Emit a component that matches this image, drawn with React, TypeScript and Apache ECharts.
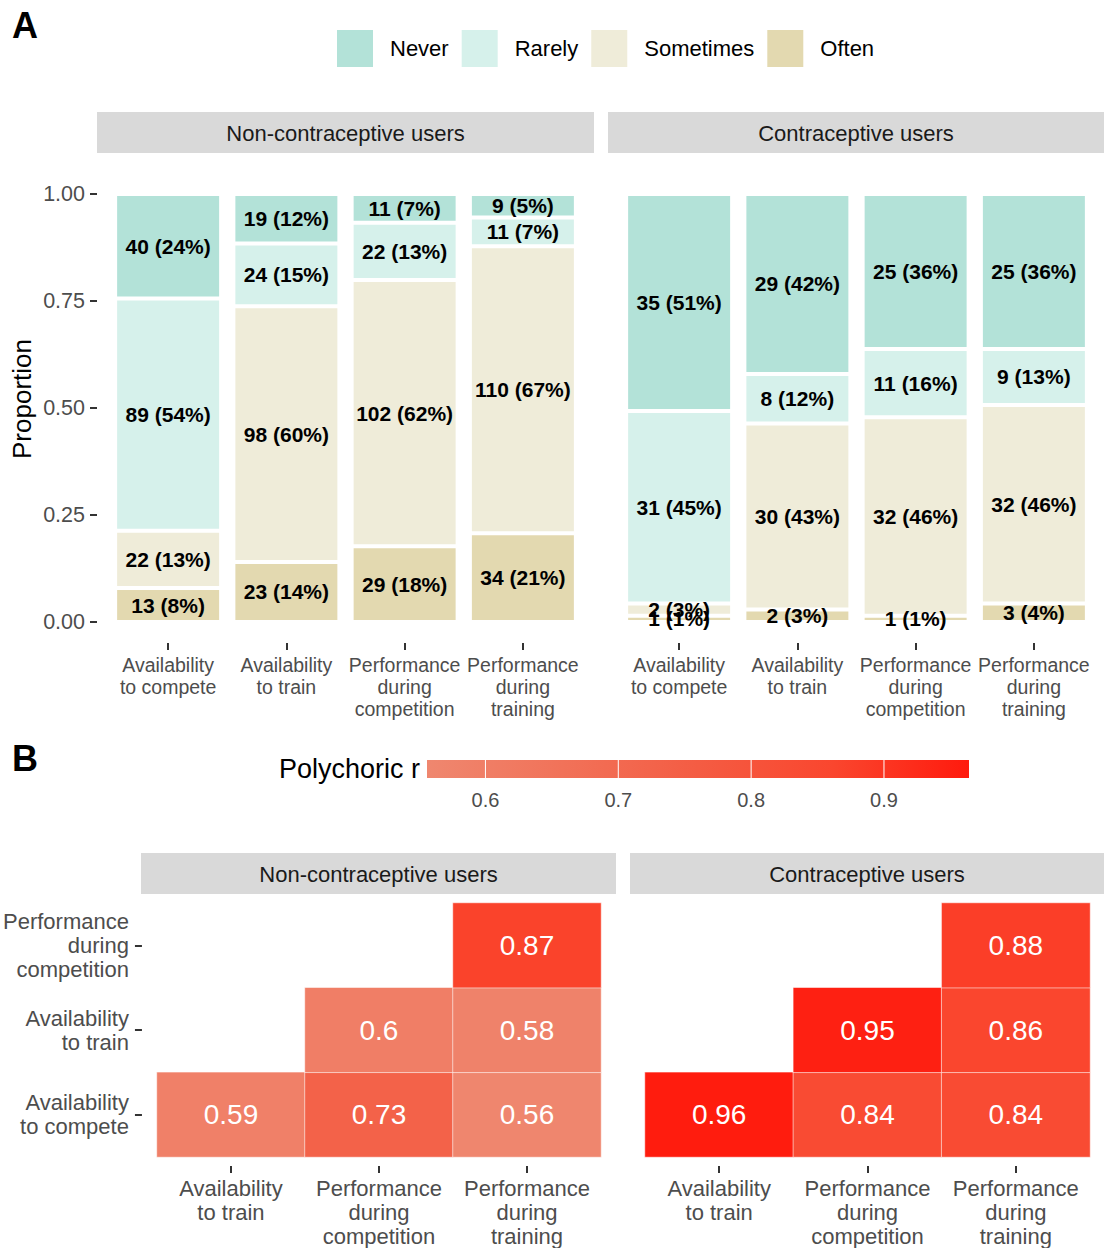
import React, { useEffect, useRef } from "react";
import * as echarts from "echarts";

const FONT = "'Liberation Sans', Arial, Helvetica, sans-serif";

// ---- Panel A data ----
const questions = [
  "Availability\nto compete",
  "Availability\nto train",
  "Performance\nduring\ncompetition",
  "Performance\nduring\ntraining",
];
const responses = ["Never", "Rarely", "Sometimes", "Often"];
const facetNames = ["Non-contraceptive users", "Contraceptive users"];

const nonNever = [40, 19, 11, 9];
const nonRarely = [89, 24, 22, 11];
const nonSometimes = [22, 98, 102, 110];
const nonOften = [13, 23, 29, 34];

const conNever = [35, 29, 25, 25];
const conRarely = [31, 8, 11, 9];
const conSometimes = [2, 30, 32, 32];
const conOften = [1, 2, 1, 3];

const yTicksA = [0, 0.25, 0.5, 0.75, 1];

// ---- Panel B data ----
const corrX = [
  "Availability\nto train",
  "Performance\nduring\ncompetition",
  "Performance\nduring\ntraining",
];
const corrY = [
  "Availability\nto compete",
  "Availability\nto train",
  "Performance\nduring\ncompetition",
];
// [xIndex, yIndex, r]
const nonCorr = [
  [0, 0, 0.59],
  [1, 0, 0.73],
  [2, 0, 0.56],
  [1, 1, 0.6],
  [2, 1, 0.58],
  [2, 2, 0.87],
];
const conCorr = [
  [0, 0, 0.96],
  [1, 0, 0.84],
  [2, 0, 0.84],
  [1, 1, 0.95],
  [2, 1, 0.86],
  [2, 2, 0.88],
];
const colorBreaks = [0.6, 0.7, 0.8, 0.9];
const colorMin = 0.556;
const colorMax = 0.964;

const responseColors: Record<string, string> = {
  Never: "#b3e2d8",
  Rarely: "#d6f1eb",
  Sometimes: "#efecd9",
  Often: "#e3d9b0",
};
const rampColors = ["#ef876f", "#f17259", "#f45c43", "#fa462e", "#ff1a0d"];

function barSeries(counts: Record<string, number[]>, gi: number, stack: string) {
  const totals = questions.map((_, i) =>
    responses.reduce((s, r) => s + counts[r][i], 0)
  );
  return ["Often", "Sometimes", "Rarely", "Never"].map((r) => ({
    type: "bar",
    name: r,
    stack,
    xAxisIndex: gi,
    yAxisIndex: gi,
    barWidth: 106,
    itemStyle: { color: responseColors[r], borderColor: "#ffffff", borderWidth: 2 },
    emphasis: { disabled: true },
    label: {
      show: true,
      position: "inside",
      fontFamily: FONT,
      fontWeight: "bold",
      fontSize: 21,
      color: "#000000",
      formatter: (p: any) =>
        `${counts[r][p.dataIndex]} (${Math.round(
          (100 * counts[r][p.dataIndex]) / totals[p.dataIndex]
        )}%)`,
    },
    data: counts[r].map((c, i) => c / totals[i]),
  }));
}

function heatSeries(data: number[][], gi: number) {
  return {
    type: "heatmap",
    xAxisIndex: gi,
    yAxisIndex: gi,
    data,
    itemStyle: { borderColor: "rgba(255,255,255,0.55)", borderWidth: 1 },
    emphasis: { disabled: true },
    label: {
      show: true,
      color: "#ffffff",
      fontSize: 28,
      fontFamily: FONT,
      formatter: (p: any) => String(p.value[2]),
    },
  };
}

const tickStyle = { show: true, length: 7, lineStyle: { color: "#333333", width: 2 } };

function buildOption() {
  const nonCounts = { Never: nonNever, Rarely: nonRarely, Sometimes: nonSometimes, Often: nonOften };
  const conCounts = { Never: conNever, Rarely: conRarely, Sometimes: conSometimes, Often: conOften };

  const xA = (gi: number) => ({
    type: "category",
    gridIndex: gi,
    data: questions,
    offset: 21,
    axisLine: { show: false, onZero: false },
    axisTick: { ...tickStyle, alignWithLabel: true },
    axisLabel: {
      interval: 0,
      color: "#4d4d4d",
      fontSize: 19.5,
      lineHeight: 22,
      margin: 11,
      fontFamily: FONT,
    },
  });
  const xB = (gi: number) => ({
    type: "category",
    gridIndex: gi,
    data: corrX,
    offset: 9,
    axisLine: { show: false, onZero: false },
    axisTick: { ...tickStyle, alignWithLabel: true },
    axisLabel: {
      interval: 0,
      color: "#4d4d4d",
      fontSize: 22,
      lineHeight: 24,
      margin: 10,
      fontFamily: FONT,
    },
    splitArea: { show: false },
  });

  const stops = rampColors.map((c, i) => ({ offset: i / (rampColors.length - 1), color: c }));

  return {
    animation: false,
    backgroundColor: "#ffffff",
    textStyle: { fontFamily: FONT },
    legend: {
      data: responses,
      left: 337,
      top: 30,
      padding: 0,
      icon: "rect",
      itemWidth: 36,
      itemHeight: 37,
      itemGap: 13,
      itemStyle: { borderWidth: 0 },
      selectedMode: false,
      textStyle: { fontSize: 22, color: "#000000", fontFamily: FONT, padding: [0, 0, 0, 12] },
    },
    grid: [
      { left: 109, top: 194, width: 473, height: 428 },
      { left: 620, top: 194, width: 473, height: 428 },
      { left: 156, top: 903, width: 445, height: 257 },
      { left: 645, top: 903, width: 445, height: 257 },
      { left: 427, top: 760, width: 542, height: 18 },
    ],
    xAxis: [
      xA(0),
      xA(1),
      xB(2),
      xB(3),
      {
        type: "value",
        gridIndex: 4,
        min: colorMin,
        max: colorMax,
        axisLine: { show: false, onZero: false },
        axisTick: { show: false },
        splitLine: { show: false },
        axisLabel: {
          customValues: colorBreaks,
          formatter: (v: number) => String(Math.round(v * 10) / 10),
          color: "#4d4d4d",
          fontSize: 20,
          margin: 12,
          fontFamily: FONT,
        },
      },
    ],
    yAxis: [
      {
        type: "value",
        gridIndex: 0,
        min: 0,
        max: 1,
        interval: 0.25,
        offset: 12,
        axisLine: { show: false, onZero: false },
        axisTick: tickStyle,
        splitLine: { show: false },
        axisLabel: {
          customValues: yTicksA,
          formatter: (v: number) => v.toFixed(2),
          color: "#4d4d4d",
          fontSize: 21.5,
          margin: 12,
          fontFamily: FONT,
        },
      },
      { type: "value", gridIndex: 1, min: 0, max: 1, show: false, splitLine: { show: false } },
      {
        type: "category",
        gridIndex: 2,
        data: corrY,
        offset: 15,
        axisLine: { show: false, onZero: false },
        axisTick: { ...tickStyle, alignWithLabel: true },
        axisLabel: {
          interval: 0,
          color: "#4d4d4d",
          fontSize: 22,
          lineHeight: 24,
          margin: 13,
          fontFamily: FONT,
        },
      },
      { type: "category", gridIndex: 3, data: corrY, show: false },
      { type: "value", gridIndex: 4, min: 0, max: 1, show: false, splitLine: { show: false } },
    ],
    visualMap: {
      type: "continuous",
      show: false,
      min: colorMin,
      max: colorMax,
      dimension: 2,
      seriesIndex: [8, 9],
      inRange: { color: rampColors },
    },
    series: [
      ...barSeries(nonCounts, 0, "non"),
      ...barSeries(conCounts, 1, "con"),
      heatSeries(nonCorr, 2),
      heatSeries(conCorr, 3),
      {
        type: "custom",
        xAxisIndex: 4,
        yAxisIndex: 4,
        silent: true,
        data: [[colorMin, colorMax]],
        renderItem: (_p: any, api: any) => {
          const p0 = api.coord([api.value(0), 1]);
          const p1 = api.coord([api.value(1), 0]);
          return {
            type: "rect",
            shape: { x: p0[0], y: p0[1], width: p1[0] - p0[0], height: p1[1] - p0[1] },
            style: { fill: new echarts.graphic.LinearGradient(0, 0, 1, 0, stops) },
          };
        },
      },
      {
        type: "custom",
        xAxisIndex: 4,
        yAxisIndex: 4,
        silent: true,
        z: 5,
        data: colorBreaks.map((v) => [v]),
        renderItem: (_p: any, api: any) => {
          const a = api.coord([api.value(0), 0]);
          const b = api.coord([api.value(0), 1]);
          return {
            type: "line",
            shape: { x1: a[0], y1: a[1], x2: b[0], y2: b[1] },
            style: { stroke: "#ffffff", lineWidth: 1 },
          };
        },
      },
    ],
    graphic: [
      { type: "text", x: 12, y: 25, style: { text: "A", font: `bold 36px ${FONT}`, fill: "#000", textVerticalAlign: "middle" } },
      { type: "text", x: 12, y: 758, style: { text: "B", font: `bold 36px ${FONT}`, fill: "#000", textVerticalAlign: "middle" } },
      {
        type: "text",
        x: 22,
        y: 399,
        rotation: Math.PI / 2,
        style: { text: "Proportion", font: `26px ${FONT}`, fill: "#000", textAlign: "center", textVerticalAlign: "middle" },
      },
      { type: "rect", shape: { x: 97, y: 112, width: 497, height: 41 }, style: { fill: "#d9d9d9" } },
      { type: "rect", shape: { x: 608, y: 112, width: 496, height: 41 }, style: { fill: "#d9d9d9" } },
      { type: "rect", shape: { x: 141, y: 853, width: 475, height: 41 }, style: { fill: "#d9d9d9" } },
      { type: "rect", shape: { x: 630, y: 853, width: 474, height: 41 }, style: { fill: "#d9d9d9" } },
      { type: "text", x: 345.5, y: 133, style: { text: facetNames[0], font: `22px ${FONT}`, fill: "#1a1a1a", textAlign: "center", textVerticalAlign: "middle" } },
      { type: "text", x: 856, y: 133, style: { text: facetNames[1], font: `22px ${FONT}`, fill: "#1a1a1a", textAlign: "center", textVerticalAlign: "middle" } },
      { type: "text", x: 378.5, y: 874, style: { text: facetNames[0], font: `22px ${FONT}`, fill: "#1a1a1a", textAlign: "center", textVerticalAlign: "middle" } },
      { type: "text", x: 867, y: 874, style: { text: facetNames[1], font: `22px ${FONT}`, fill: "#1a1a1a", textAlign: "center", textVerticalAlign: "middle" } },
      { type: "text", x: 420, y: 769, style: { text: "Polychoric r", font: `27px ${FONT}`, fill: "#000", textAlign: "right", textVerticalAlign: "middle" } },
    ],
  };
}

export default function App() {
  const ref = useRef<HTMLDivElement>(null);
  useEffect(() => {
    document.body.style.margin = "0";
    const chart = echarts.init(ref.current as HTMLDivElement, null, { renderer: "svg" });
    chart.setOption(buildOption() as any);
    return () => {
      chart.dispose();
    };
  }, []);
  return <div ref={ref} style={{ width: 1104, height: 1248 }} />;
}
